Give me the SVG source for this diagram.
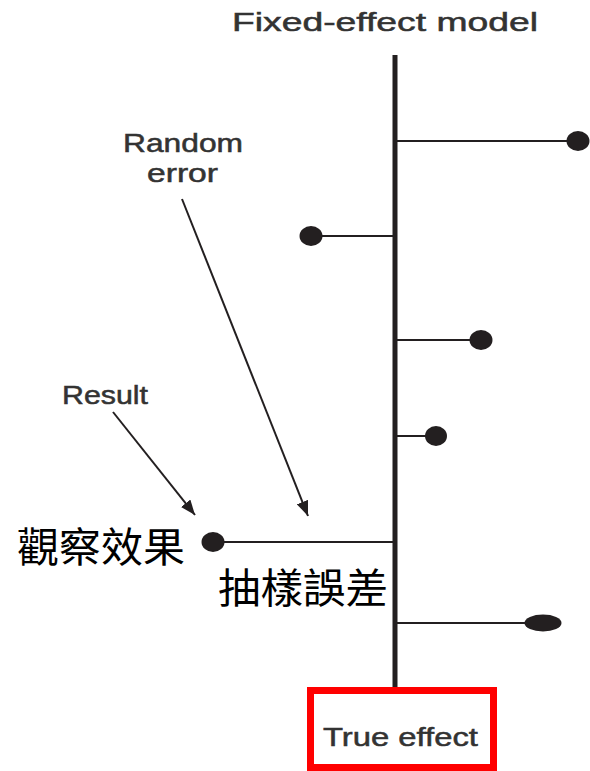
<svg xmlns="http://www.w3.org/2000/svg" width="590" height="771" viewBox="0 0 590 771">
  <style>
    .lbl { font-family: "Liberation Sans", Arial, sans-serif; font-size: 25px; fill: #333333; stroke: #333333; stroke-width: 0.5; }
    .cjk { font-family: "Noto Sans CJK TC", "Noto Sans CJK SC", sans-serif; font-size: 41px; fill: #000000; }
    .stem { stroke: #231f20; stroke-width: 2; fill: none; }
    .dot { fill: #231f20; }
    .arrow { stroke: #231f20; stroke-width: 2; fill: none; marker-end: url(#head); }
  </style>
  <defs>
    <marker id="head" viewBox="0 0 10 10" refX="10" refY="5" markerWidth="15" markerHeight="12" markerUnits="userSpaceOnUse" orient="auto" preserveAspectRatio="none">
      <path d="M0,0 L10,5 L0,10 z" fill="#231f20"/>
    </marker>
  </defs>
  <rect width="590" height="771" fill="#ffffff"/>

  <g id="title">
    <text class="lbl" x="232" y="31" textLength="306" lengthAdjust="spacingAndGlyphs">Fixed-effect model</text>
  </g>

  <!-- central axis: the true effect -->
  <g id="axis">
    <line x1="395" y1="55" x2="395" y2="688" stroke="#231f20" stroke-width="5"/>
  </g>

  <!-- individual study results and their deviations -->
  <g id="study1">
    <line class="stem" x1="395" y1="141" x2="578" y2="141"/>
    <ellipse class="dot" cx="578" cy="141" rx="11.5" ry="10"/>
  </g>
  <g id="study2">
    <line class="stem" x1="311" y1="236" x2="395" y2="236"/>
    <ellipse class="dot" cx="311" cy="236" rx="11.5" ry="10"/>
  </g>
  <g id="study3">
    <line class="stem" x1="395" y1="340" x2="481" y2="340"/>
    <ellipse class="dot" cx="481" cy="340" rx="11.5" ry="10"/>
  </g>
  <g id="study4">
    <line class="stem" x1="395" y1="436" x2="436" y2="436"/>
    <ellipse class="dot" cx="436" cy="436" rx="11" ry="10"/>
  </g>
  <g id="study5">
    <line class="stem" x1="213" y1="542" x2="395" y2="542"/>
    <ellipse class="dot" cx="213" cy="542" rx="11.5" ry="10"/>
  </g>
  <g id="study6">
    <line class="stem" x1="395" y1="623" x2="543" y2="623"/>
    <ellipse class="dot" cx="543" cy="623" rx="18.5" ry="8.5"/>
  </g>

  <!-- annotation arrows -->
  <g id="connectors">
    <line class="arrow" x1="182" y1="199" x2="308" y2="516"/>
    <line class="arrow" x1="113" y1="412" x2="195" y2="515"/>
  </g>

  <g id="random-error">
    <text class="lbl" x="123" y="152" textLength="120" lengthAdjust="spacingAndGlyphs">Random</text>
    <text class="lbl" x="147" y="182" textLength="71" lengthAdjust="spacingAndGlyphs">error</text>
  </g>
  <g id="result">
    <text class="lbl" x="62" y="404" textLength="86" lengthAdjust="spacingAndGlyphs">Result</text>
  </g>

  <g id="observed-effect">
    <text class="cjk" x="17" y="562" textLength="168" lengthAdjust="spacingAndGlyphs">觀察效果</text>
  </g>
  <g id="sampling-error">
    <text class="cjk" x="218" y="603" textLength="170" lengthAdjust="spacingAndGlyphs">抽樣誤差</text>
  </g>

  <g id="true-effect">
    <rect x="310.5" y="690.5" width="183" height="77" fill="none" stroke="#ff0000" stroke-width="7"/>
    <text class="lbl" x="323" y="746" textLength="155" lengthAdjust="spacingAndGlyphs">True effect</text>
  </g>
</svg>
